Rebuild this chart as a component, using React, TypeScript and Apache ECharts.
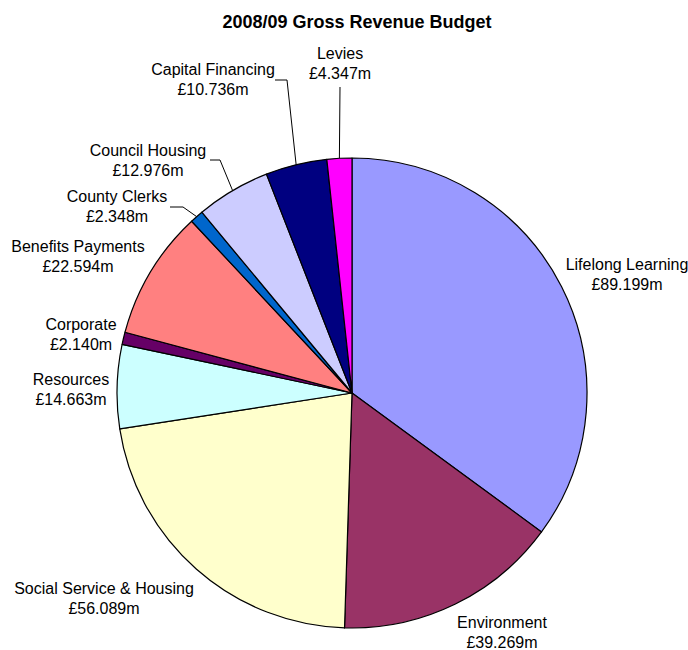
import React, { useEffect, useRef } from "react";
import * as echarts from "echarts";

const categories = [
  "Lifelong Learning",
  "Environment",
  "Social Service & Housing",
  "Resources",
  "Corporate",
  "Benefits Payments",
  "County Clerks",
  "Council Housing",
  "Capital Financing",
  "Levies",
];
const values = [89.199, 39.269, 56.089, 14.663, 2.14, 22.594, 2.348, 12.976, 10.736, 4.347];
const colors = [
  "#9999FF", "#993366", "#FFFFCC", "#CCFFFF", "#660066",
  "#FF8080", "#0066CC", "#CCCCFF", "#000080", "#FF00FF",
];

// label positions (centre of the two-line label) and optional leader bends
const labelPos: [number, number][] = [
  [627, 274], [502, 632], [104, 598], [71, 389], [81, 334],
  [78, 256], [117, 206], [148, 160], [213, 79], [340, 63],
];
const leaderBends: ([number, number][] | null)[] = [
  null, null, null, null, null, null,
  [[183, 207], [170, 207]],
  [[220, 160], [210, 160]],
  [[287, 80], [275, 80]],
  [[340, 87]],
];

export default function App() {
  const ref = useRef<HTMLDivElement>(null);
  useEffect(() => {
    document.body.style.margin = "0";
    const chart = echarts.init(ref.current!, null, { renderer: "svg" });
    chart.setOption({
      animation: false,
      backgroundColor: "#ffffff",
      title: {
        text: "2008/09 Gross Revenue Budget",
        left: 352,
        textAlign: "center",
        top: 8,
        textStyle: { fontFamily: "Liberation Sans, Arial", fontSize: 18, fontWeight: "bold", color: "#000" },
      },
      series: [
        {
          type: "pie",
          center: [352, 393],
          radius: 235,
          startAngle: 90,
          clockwise: true,
          avoidLabelOverlap: false,
          data: categories.map((name, i) => ({
            name,
            value: values[i],
            itemStyle: { color: colors[i] },
            labelLine: { show: !!leaderBends[i] },
          })),
          itemStyle: { borderColor: "#000", borderWidth: 1.2 },
          label: {
            show: true,
            position: "outside",
            formatter: (p: any) => `${p.name}\n£${Number(p.value).toFixed(3)}m`,
            fontFamily: "Liberation Sans, Arial",
            fontSize: 16,
            lineHeight: 20,
            color: "#000",
            align: "center",
          },
          labelLine: {
            lineStyle: { color: "#000", width: 1 },
            length: 10,
            length2: 10,
          },
          labelLayout: (params: any) => {
            const i = params.dataIndex;
            const [x, y] = labelPos[i];
            const res: any = { x, y, align: "center", verticalAlign: "middle" };
            const bends = leaderBends[i];
            if (bends && params.labelLinePoints) {
              res.labelLinePoints = [params.labelLinePoints[0], ...bends];
            }
            return res;
          },
          emphasis: { disabled: true },
        },
      ],
    });
    return () => chart.dispose();
  }, []);
  return <div ref={ref} style={{ width: 688, height: 650 }} />;
}
